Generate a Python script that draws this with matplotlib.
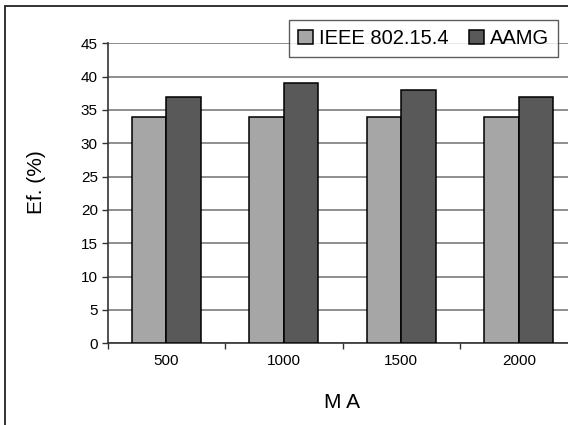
import matplotlib
matplotlib.use('Agg')
import matplotlib.pyplot as plt
import matplotlib.patches as patches
import numpy as np

plt.rcParams['font.family'] = ['Liberation Sans', 'DejaVu Sans']

categories = ['500', '1000', '1500', '2000']
ieee = [34, 34, 34, 34]
aamg = [37, 39, 38, 37]
series_names = ['IEEE 802.15.4', 'AAMG']
yticks = [0, 5, 10, 15, 20, 25, 30, 35, 40, 45]

light = '#a6a6a6'
dark = '#595959'

fig = plt.figure(figsize=(5.68, 4.25), dpi=100)
# plot area runs a little past the right edge of the image
ax = fig.add_axes([0.1894, 0.1922, 0.8275, 0.706])

x = np.arange(len(categories))
w = 0.293
ax.bar(x - w / 2, ieee, w, color=light, edgecolor='black', linewidth=1.1,
       label=series_names[0], zorder=3)
ax.bar(x + w / 2, aamg, w, color=dark, edgecolor='black', linewidth=1.1,
       label=series_names[1], zorder=3)

ax.set_xlim(-0.5, len(categories) - 0.5)
ax.set_ylim(0, 45)
ax.set_yticks(yticks)
ax.yaxis.grid(True, color='#707070', linewidth=1.1)
ax.set_axisbelow(True)

ax.set_xticks(x)
ax.set_xticklabels(categories)
ax.set_xticks(np.arange(len(categories) + 1) - 0.5, minor=True)
ax.tick_params(axis='x', which='major', length=0, pad=8, labelsize=11)
ax.tick_params(axis='x', which='minor', length=4, width=1, color='#333333',
               direction='out')
ax.tick_params(axis='y', length=4, width=1, color='#333333', pad=3,
               labelsize=11)

for s in ['top', 'right']:
    ax.spines[s].set_visible(False)
for s in ['left', 'bottom']:
    ax.spines[s].set_color('#333333')
    ax.spines[s].set_linewidth(1.2)

fig.text(36 / 568, 1 - 182 / 425, 'Ef. (%)', rotation=90, ha='center',
         va='center', fontsize=15)
fig.text(342 / 568, 1 - 402 / 425, 'M A', ha='center', va='center',
         fontsize=15)

leg = ax.legend(loc='upper right', bbox_to_anchor=(558 / 568, 1 - 20 / 425),
                bbox_transform=fig.transFigure, ncol=2, fontsize=14.5,
                frameon=True, fancybox=False, borderpad=0.45,
                handlelength=0.75, handleheight=0.7, handletextpad=0.3,
                columnspacing=1.0, borderaxespad=0)
leg.get_frame().set_edgecolor('#333333')
leg.get_frame().set_linewidth(1.0)

# outer chart frame, cut off on the right and bottom
fig.patches.append(patches.Rectangle((5 / 568, -0.2), 1.2, 1.2 - 6 / 425,
                                     transform=fig.transFigure, fill=False,
                                     edgecolor='#222222', linewidth=1.3))

fig.savefig('out.png', dpi=100)
